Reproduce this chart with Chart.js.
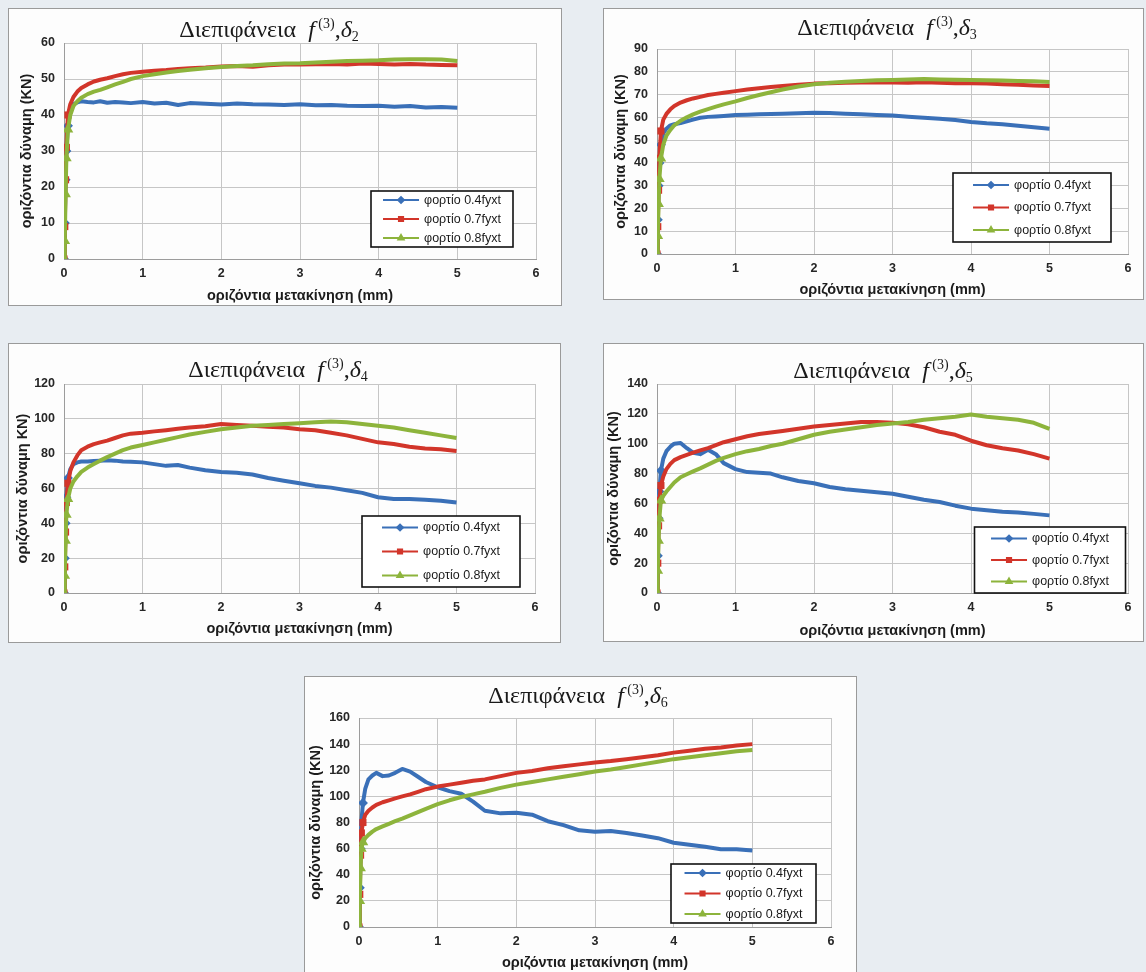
<!DOCTYPE html>
<html>
<head>
<meta charset="utf-8">
<script src="https://cdn.jsdelivr.net/npm/chart.js@4.4.0/dist/chart.umd.min.js"></script>
<style>
  body { margin: 0; width: 1146px; height: 972px; overflow: hidden; background: #e8edf2; }
  canvas.panel { position: absolute; background: #fdfdfd; outline: 1px solid #9a9a9a; outline-offset: -1px; }
</style>
</head>
<body>
<script>
// horizontal displacement (mm) shared by all tests
const disp = [0, 0.01, 0.02, 0.03, 0.05, 0.08, 0.12, 0.17, 0.22, 0.3, 0.38, 0.46, 0.55, 0.65, 0.75, 0.85,
  1.0, 1.15, 1.3, 1.45, 1.6, 1.8, 2.0, 2.2, 2.4, 2.6, 2.8, 3.0, 3.2, 3.4, 3.6, 3.8, 4.0, 4.2, 4.4, 4.6, 4.8, 5.0];

const loadLabels = ['φορτίο 0.4fyxt', 'φορτίο 0.7fyxt', 'φορτίο 0.8fyxt'];
const deltaIndex = ['2', '3', '4', '5', '6'];
const yMaxes = [60, 90, 120, 140, 160];
const ySteps = [10, 10, 20, 20, 20];

// horizontal force (KN), interface f(3), δ2
const d2Load04 = [0, 10, 22, 30, 37, 41, 43, 43.5, 43.8, 43.6, 43.5, 43.8, 43.4, 43.6, 43.5, 43.3,
  43.6, 43.2, 43.4, 42.8, 43.3, 43.1, 42.9, 43.2, 43, 42.9, 42.8, 43, 42.7, 42.8, 42.6, 42.5, 42.6, 42.3, 42.5, 42.1, 42.2, 42];
const d2Load07 = [0, 9, 22, 31, 40, 43, 45, 46.5, 47.5, 48.5, 49.3, 49.8, 50.2, 50.8, 51.3, 51.7,
  52, 52.3, 52.5, 52.8, 53, 53.2, 53.5, 53.6, 53.4, 53.8, 54, 54, 54.1, 54.2, 54, 54.3, 54.2, 54, 54.2, 54, 53.9, 53.8];
const d2Load08 = [0, 5, 18, 28, 36, 40, 42.5, 43.8, 44.8, 45.8, 46.5, 47, 47.7, 48.5, 49.2, 50,
  50.8, 51.3, 51.8, 52.2, 52.6, 53, 53.3, 53.6, 53.8, 54.1, 54.3, 54.4, 54.6, 54.8, 55, 55.1, 55.2, 55.4, 55.5, 55.5, 55.4, 55];

// δ3
const d3Load04 = [0, 15, 30, 40, 48, 53, 55, 56.5, 57, 57.5, 58.3, 59, 59.8, 60.2, 60.4, 60.6,
  61, 61.1, 61.3, 61.5, 61.6, 61.8, 62, 61.9, 61.6, 61.3, 61, 60.8, 60.3, 59.8, 59.4, 58.8, 58, 57.4, 57, 56.3, 55.6, 55];
const d3Load07 = [0, 12, 28, 42, 54, 59, 61.5, 63.5, 65, 66.5, 67.5, 68.3, 69, 69.8, 70.3, 70.8,
  71.5, 72.2, 72.8, 73.3, 73.8, 74.3, 74.8, 75, 75.2, 75.3, 75.4, 75.3, 75.2, 75.4, 75.2, 75, 75, 74.8, 74.5, 74.3, 74, 73.8];
const d3Load08 = [0, 8, 22, 33, 42, 48, 52, 54.5, 56.5, 58.5, 60, 61.3, 62.5, 63.6, 64.7, 65.7,
  67, 68.5, 69.8, 71, 72.2, 73.5, 74.5, 75.2, 75.6, 76, 76.3, 76.4, 76.6, 76.8, 76.6, 76.5, 76.4, 76.3, 76.2, 76, 75.8, 75.5];

// δ4
const d4Load04 = [0, 20, 40, 55, 66, 71, 74, 75, 75.5, 75.5, 75.8, 76, 76.2, 76, 75.5, 75.3,
  75, 74, 73, 73.5, 72, 70.5, 69.5, 69, 68, 66, 64.5, 63, 61.5, 60.5, 59, 57.5, 55, 54, 54, 53.5, 53, 52];
const d4Load07 = [0, 15, 35, 52, 63, 70, 75, 79, 82, 84, 85.5, 86.5, 87.5, 89, 90.5, 91.5,
  92, 92.8, 93.5, 94.3, 95, 95.8, 97, 96.5, 96, 95.5, 95, 94, 93.5, 92, 90.5, 88.5, 86.5, 85.5, 84, 83, 82.5, 81.5];
const d4Load08 = [0, 10, 30, 45, 54, 60, 64, 67, 69.5, 72, 74, 76, 78, 80, 82, 83.5,
  85, 86.5, 88, 89.5, 91, 92.5, 94, 95, 96, 96.5, 97, 97.5, 98, 98.5, 98, 97, 96, 95, 93.5, 92, 90.5, 89];

// δ5
const d5Load04 = [0, 25, 50, 68, 82, 90, 95, 98, 100, 100.5, 97, 94, 93, 96, 93, 87,
  83, 81, 80.5, 80, 77.5, 75, 73.5, 71, 69.5, 68.5, 67.5, 66.5, 64.5, 62.5, 61, 58.5, 56.5, 55.5, 54.5, 54, 53, 52];
const d5Load07 = [0, 20, 45, 62, 72, 78, 83, 86.5, 89, 91, 92.5, 94, 95.5, 97, 99, 101,
  103, 105, 106.5, 107.5, 108.5, 110, 111.5, 112.5, 113.5, 114.5, 114.5, 114, 113, 111, 108, 106, 102, 99, 97, 95.5, 93, 90];
const d5Load08 = [0, 15, 35, 50, 62, 65, 68, 71, 74, 77.5, 79.5, 81.5, 83.5, 86, 88.5, 90.5,
  93, 95, 96.5, 98.5, 100, 103, 106, 108, 109.5, 111, 112.5, 113.5, 114.5, 116, 117, 118, 119.5, 118, 117, 116, 114, 110];

// δ6
const d6Load04 = [0, 30, 60, 80, 95, 106, 113, 116, 118, 115.5, 116, 118, 121, 119, 115, 111,
  107, 104, 102, 96, 89, 87, 87.5, 86, 81, 78, 74, 73, 73.5, 72, 70, 68, 64.5, 63, 61.5, 59.5, 59.5, 58.5];
const d6Load07 = [0, 25, 55, 72, 80, 86, 89, 91.5, 93.5, 95.5, 97, 98.5, 100, 101.5, 103.5, 105.5,
  107.5, 109, 110.5, 112, 113, 115.5, 118, 119.5, 121.5, 123, 124.5, 126, 127, 128.5, 130, 131.5, 133.5, 135, 136.5, 137.5, 139, 140];
const d6Load08 = [0, 20, 45, 60, 65, 68, 70.5, 73, 75, 77, 79, 81, 83, 85.5, 88, 90.5,
  94, 97, 99.5, 101.5, 103.5, 106.5, 109, 111, 113, 115, 117, 119, 120.5, 122.5, 124.5, 126.5, 128.5, 130, 131.5, 133, 134.5, 135.5];

const seriesByPanel = [
  [d2Load04, d2Load07, d2Load08],
  [d3Load04, d3Load07, d3Load08],
  [d4Load04, d4Load07, d4Load08],
  [d5Load04, d5Load07, d5Load08],
  [d6Load04, d6Load07, d6Load08]
];
const yTitles = ['οριζόντια δύναμη (KN)', 'οριζόντια δύναμη (KN)', 'οριζόντια δύναμη KN)',
  'οριζόντια δύναμη (KN)', 'οριζόντια δύναμη (KN)'];

const colors = ['#3a70b8', '#d2352a', '#8db43c'];
const markers = ['rectRot', 'rect', 'triangle'];
const SANS = '"Liberation Sans", Arial, sans-serif';
const SERIF = '"Liberation Serif", "Times New Roman", serif';

// panel frames and plot-area boxes (pixels, relative to each panel)
const layouts = [
  { left: 8,   top: 8,   w: 554, h: 298, plot: { l: 56, t: 35, r: 528, b: 251 }, titleX: 261, titleY: 29, yTitleX: 19,   xTitleY: 288, legend: { x: 363,   y: 183, w: 142, h: 56, gap: 19 } },
  { left: 603, top: 8,   w: 541, h: 292, plot: { l: 54, t: 41, r: 525, b: 246 }, titleX: 284, titleY: 27, yTitleX: 17.5, xTitleY: 282, legend: { x: 350,   y: 165, w: 158, h: 69, gap: 22.5 } },
  { left: 8,   top: 343, w: 553, h: 300, plot: { l: 56, t: 41, r: 527, b: 250 }, titleX: 270, titleY: 34, yTitleX: 15,   xTitleY: 286, legend: { x: 354,   y: 173, w: 158, h: 71, gap: 24 } },
  { left: 603, top: 343, w: 541, h: 299, plot: { l: 54, t: 41, r: 525, b: 250 }, titleX: 280, titleY: 35, yTitleX: 11,   xTitleY: 288, legend: { x: 371.5, y: 184, w: 151, h: 66, gap: 21.5 } },
  { left: 304, top: 676, w: 553, h: 300, plot: { l: 55, t: 42, r: 527, b: 251 }, titleX: 274, titleY: 27, yTitleX: 12,   xTitleY: 287, legend: { x: 367,   y: 188, w: 145, h: 59, gap: 20.5 } }
];

// "Διεπιφάνεια f^(3), δ_n" with italic symbols and super/subscripts
const panelTitle = {
  id: 'panelTitle',
  afterDraw(chart, args, o) {
    const ctx = chart.ctx;
    const parts = [
      { t: 'Διεπιφάνεια  ', f: '24px ' + SERIF, dy: 0 },
      { t: 'f', f: 'italic 24px ' + SERIF, dy: 0 },
      { t: ' (3)', f: '14px ' + SERIF, dy: -9 },
      { t: ',', f: '24px ' + SERIF, dy: 0 },
      { t: 'δ', f: 'italic 24px ' + SERIF, dy: 0 },
      { t: o.sub, f: '14px ' + SERIF, dy: 4 }
    ];
    ctx.save();
    let total = 0;
    parts.forEach(p => { ctx.font = p.f; p.w = ctx.measureText(p.t).width; total += p.w; });
    let x = o.x - total / 2;
    ctx.fillStyle = '#1a1a1a';
    ctx.textBaseline = 'alphabetic';
    parts.forEach(p => { ctx.font = p.f; ctx.fillText(p.t, x, o.y + p.dy); x += p.w; });
    ctx.restore();
  }
};

// boxed legend sitting inside the plot area
const boxLegend = {
  id: 'boxLegend',
  afterDraw(chart, args, o) {
    const ctx = chart.ctx;
    ctx.save();
    ctx.fillStyle = '#ffffff';
    ctx.fillRect(o.x, o.y, o.w, o.h);
    ctx.strokeStyle = '#111';
    ctx.lineWidth = 1.6;
    ctx.strokeRect(o.x, o.y, o.w, o.h);
    ctx.font = '12.5px ' + SANS;
    const textW = ctx.measureText(loadLabels[1]).width;
    const lineLen = 36;
    const startX = o.x + (o.w - (lineLen + 5 + textW)) / 2;
    chart.data.datasets.forEach((ds, i) => {
      const cy = o.y + o.h / 2 + (i - 1) * o.gap;
      ctx.strokeStyle = ds.borderColor;
      ctx.lineWidth = 2.2;
      ctx.beginPath();
      ctx.moveTo(startX, cy);
      ctx.lineTo(startX + lineLen, cy);
      ctx.stroke();
      ctx.fillStyle = ds.borderColor;
      Chart.helpers.drawPoint(ctx, { pointStyle: ds.pointStyle, radius: 2.8, borderWidth: 1, rotation: 0 },
        startX + lineLen / 2, cy);
      ctx.fillStyle = '#1a1a1a';
      ctx.textBaseline = 'middle';
      ctx.textAlign = 'left';
      ctx.fillText(ds.label, startX + lineLen + 5, cy + 0.5);
    });
    ctx.restore();
  }
};

function buildPanel(k) {
  const L = layouts[k];
  const canvas = document.createElement('canvas');
  canvas.className = 'panel';
  canvas.width = L.w;
  canvas.height = L.h;
  canvas.style.left = L.left + 'px';
  canvas.style.top = L.top + 'px';
  document.body.appendChild(canvas);

  const datasets = seriesByPanel[k].map((vals, i) => ({
    label: loadLabels[i],
    data: disp.map((x, j) => ({ x: x, y: vals[j] })),
    borderColor: colors[i],
    backgroundColor: colors[i],
    pointBackgroundColor: colors[i],
    pointBorderColor: colors[i],
    pointStyle: markers[i],
    // markers only show up where the load climbs almost vertically
    pointRadius: c => (c.raw && c.raw.x < 0.06 ? 2.2 : 0),
    borderWidth: 4,
    borderJoinStyle: 'round',
    order: 2 - i
  }));

  const tickFont = { family: SANS, size: 12.5, weight: 'bold' };
  const axisSize = 14.5;
  const axisFont = { family: SANS, size: axisSize, weight: 'bold' };
  const halfLine = axisSize * 1.2 / 2;

  new Chart(canvas, {
    type: 'line',
    data: { datasets },
    plugins: [panelTitle, boxLegend],
    options: {
      responsive: false,
      animation: false,
      events: [],
      layout: { padding: { top: L.plot.t, right: L.w - L.plot.r, bottom: 0, left: 0 } },
      plugins: {
        legend: { display: false },
        tooltip: { enabled: false },
        panelTitle: { x: L.titleX, y: L.titleY, sub: deltaIndex[k] },
        boxLegend: L.legend
      },
      scales: {
        x: {
          type: 'linear', min: 0, max: 6,
          ticks: { stepSize: 1, padding: 7, font: tickFont, color: '#262626' },
          grid: { color: '#c6c6c6', drawTicks: false },
          border: { color: '#9c9c9c' },
          title: { display: true, text: 'οριζόντια μετακίνηση (mm)', font: axisFont, color: '#1c1c1c',
            padding: { top: 0, bottom: L.h - L.xTitleY - halfLine } },
          afterFit: s => { s.height = L.h - L.plot.b; }
        },
        y: {
          min: 0, max: yMaxes[k],
          ticks: { stepSize: ySteps[k], padding: 9, font: tickFont, color: '#262626' },
          grid: { color: '#c6c6c6', drawTicks: false },
          border: { color: '#9c9c9c' },
          title: { display: true, text: yTitles[k], font: axisFont, color: '#1c1c1c',
            padding: { top: L.yTitleX - halfLine, bottom: 0 } },
          afterFit: s => { s.width = L.plot.l; }
        }
      }
    }
  });
}

for (let k = 0; k < layouts.length; k++) buildPanel(k);
</script>
</body>
</html>
